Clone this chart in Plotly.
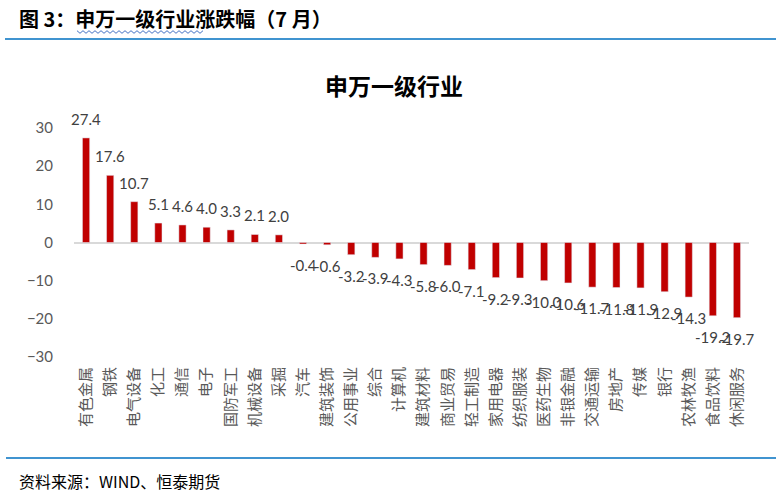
import plotly.graph_objects as go

categories = ["有色金属", "钢铁", "电气设备", "化工", "通信", "电子", "国防军工", "机械设备", "采掘",
              "汽车", "建筑装饰", "公用事业", "综合", "计算机", "建筑材料", "商业贸易", "轻工制造",
              "家用电器", "纺织服装", "医药生物", "非银金融", "交通运输", "房地产", "传媒", "银行",
              "农林牧渔", "食品饮料", "休闲服务"]
values = [27.4, 17.6, 10.7, 5.1, 4.6, 4.0, 3.3, 2.1, 2.0,
          -0.4, -0.6, -3.2, -3.9, -4.3, -5.8, -6.0, -7.1,
          -9.2, -9.3, -10.0, -10.6, -11.7, -11.8, -11.9, -12.9,
          -14.3, -19.2, -19.7]
y_ticks = [-30, -20, -10, 0, 10, 20, 30]

W, H = 778, 496
L, R, T, B = 74, 749, 128, 357

def px(x):
    return (x - L) / (R - L)

def py(y):
    return (B - y) / (B - T)

fig = go.Figure(go.Bar(
    x=categories, y=values,
    marker_color="#C00000",
    hoverinfo="x+y",
))

label_font = dict(family="Lato, Open Sans, sans-serif", size=15, color="#404040")
annotations = []
for c, v in zip(categories, values):
    annotations.append(dict(
        x=c, y=v, xref="x", yref="y", text=f"{v:.1f}", showarrow=False,
        xanchor="center", yanchor="middle",
        yshift=19 if v >= 0 else -21, font=label_font,
    ))

# wavy underline path (spell-check squiggle)
x0, x1, yw = 77, 205, 32
pts = []
step = 3
i = 0
x = x0
while x <= x1:
    yy = yw + (1.3 if i % 2 else -1.3)
    pts.append(f"{px(x):.5f},{py(yy):.5f}")
    x += step
    i += 1
path = "M" + " L".join(pts)

annotations += [
    dict(text="<b>图 3：申万一级行业涨跌幅（7 月）</b>", xref="paper", yref="paper",
         x=px(17), y=py(18), xanchor="left", yanchor="middle", showarrow=False,
         font=dict(family="Noto Sans CJK SC", size=20, color="#000000")),
    dict(text="<b>申万一级行业</b>", xref="paper", yref="paper",
         x=px(394), y=py(85), xanchor="center", yanchor="middle", showarrow=False,
         font=dict(family="Noto Sans CJK SC", size=23, color="#000000")),
    dict(text="资料来源：WIND、恒泰期货", xref="paper", yref="paper",
         x=px(17), y=py(481), xanchor="left", yanchor="middle", showarrow=False,
         font=dict(family="Noto Sans CJK SC", size=16, color="#000000")),
]

fig.update_layout(
    width=W, height=H,
    margin=dict(l=L, r=W - R, t=T, b=H - B),
    plot_bgcolor="white", paper_bgcolor="white",
    showlegend=False,
    bargap=0.7,
    xaxis=dict(
        tickangle=-90,
        tickfont=dict(family="Noto Sans CJK SC", size=15, color="#595959"),
        showgrid=False, showline=False, ticks="",
        range=[-0.5, len(categories) - 0.5],
        ticklabelstandoff=6,
        automargin=False,
    ),
    yaxis=dict(
        range=[-30, 30],
        tickvals=y_ticks,
        tickfont=dict(family="Lato, Open Sans, sans-serif", size=15, color="#595959"),
        showgrid=False, zeroline=True, zerolinecolor="#D9D9D9", zerolinewidth=2,
        showline=False, ticks="", ticklabelstandoff=20,
        automargin=False,
    ),
    annotations=annotations,
    shapes=[
        dict(type="line", xref="paper", yref="paper", x0=px(5), x1=px(776), y0=py(39), y1=py(39),
             line=dict(color="#0070C0", width=1.5)),
        dict(type="line", xref="paper", yref="paper", x0=px(6), x1=px(776), y0=py(458), y1=py(458),
             line=dict(color="#0070C0", width=1.5)),
        dict(type="path", xref="paper", yref="paper", path=path,
             line=dict(color="#4472C4", width=1)),
    ],
)

fig.write_html("out.html", config={"displayModeBar": False},
               post_script="document.body.style.margin='0';")
